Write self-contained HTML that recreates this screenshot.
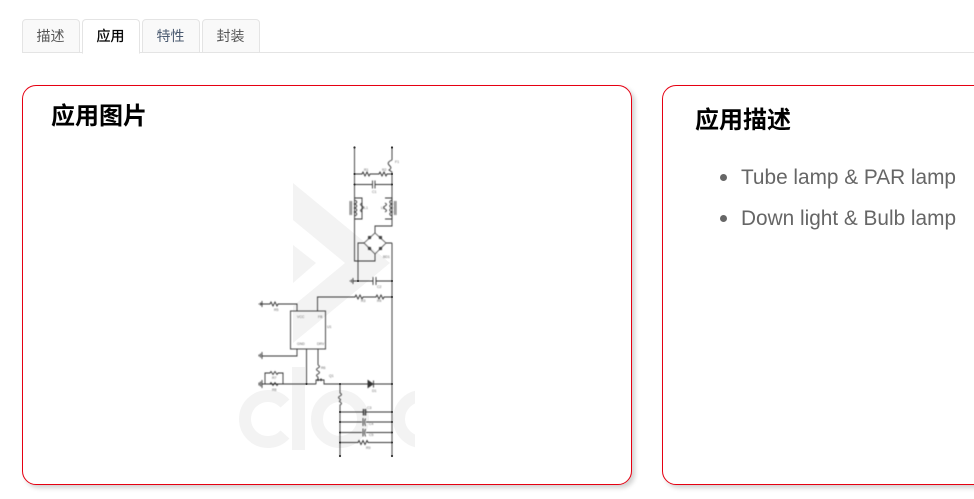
<!DOCTYPE html>
<html lang="zh">
<head>
<meta charset="utf-8">
<style>
html,body{margin:0;padding:0;background:#fff;width:974px;height:499px;overflow:hidden}
body{position:relative;font-family:"Liberation Sans","Noto Sans CJK SC",sans-serif}
.line{position:absolute;left:22px;top:52px;width:952px;height:1px;background:#e4e4e4}
.tab{position:absolute;top:19px;width:56px;height:32px;border:1px solid #e4e4e4;border-radius:4px 4px 0 0;background:#f9f9f9;text-align:center;font-size:14px;line-height:33px;color:#555;text-indent:-1px}
.tab.on{background:#fff;border-bottom:1px solid #fff;height:33px;color:#000;z-index:2;-webkit-text-stroke:.25px #000}
.card{position:absolute;top:85px;height:398px;background:#fff;border:1px solid #e60012;border-radius:14px;box-shadow:3px 3px 5px rgba(0,0,0,.18)}
h2{position:absolute;margin:0;font-size:24px;line-height:30px;font-weight:bold;color:#000;white-space:nowrap}
.li{position:absolute;font-size:20.8px;line-height:24px;color:#666;white-space:nowrap}
.dot{position:absolute;width:7px;height:7px;border-radius:50%;background:#666}
svg{position:absolute;left:0;top:0}
</style>
</head>
<body>
<div class="line"></div>
<div class="tab" style="left:22px">描述</div>
<div class="tab on" style="left:82px">应用</div>
<div class="tab" style="left:142px;color:#4a5a70">特性</div>
<div class="tab" style="left:202px">封装</div>

<div class="card" style="left:22px;width:608px"></div>
<div class="card" style="left:662px;width:340px"></div>

<h2 style="left:51px;top:102px">应用图片</h2>
<h2 style="left:695px;top:106px">应用描述</h2>

<div class="dot" style="left:720px;top:174px"></div>
<div class="li" style="left:741px;top:166px">Tube lamp &amp; PAR lamp</div>
<div class="dot" style="left:720px;top:215px"></div>
<div class="li" style="left:741px;top:207px">Down light &amp; Bulb lamp</div>

<svg width="974" height="499" viewBox="0 0 974 499">
<defs>
<clipPath id="c"><rect x="238" y="180" width="177" height="270"/></clipPath>
<filter id="b" x="-5%" y="-5%" width="110%" height="110%"><feGaussianBlur stdDeviation="0.4"/></filter>
</defs>
<g clip-path="url(#c)" fill="#f3f3f3">
<polygon points="293,183 390,263 293,343 293,306 345,263 293,220"/>
<polygon points="293,245 316,263 293,283"/>
<rect x="292" y="367" width="13" height="83"/>
<g fill="none" stroke="#f3f3f3" stroke-width="12">
<path d="M285 403.500A23 23 0 1 0 285 434.500"/>
<circle cx="340" cy="419" r="23"/>
<circle cx="422" cy="419" r="23"/>
</g>
</g>
<g filter="url(#b)" fill="none" stroke="#333" stroke-width="0.9">
<!-- main rails -->
<path d="M354.500 147V261H375V254"/>
<path d="M392 147V160"/>
<path d="M392 160c-3 1-5 3-3 5s3 3 0 5l3 2"/>
<path d="M392 172V226H375V233"/>
<path d="M392 243V456"/>
<!-- top resistors -->
<path d="M354.500 174H362l1-2 2 4 2-4 2 4 1-2H379l1-2 2 4 2-4 2 4 1-2H392"/>
<path d="M354.500 184.500H372M375 184.500H392"/>
<path d="M372.500 180.500v8M375 180.500v8"/>
<!-- inductors -->
<path d="M354.500 198H362V219H354.500"/>
<path d="M385 198H392V219H385"/>
<path d="M354.500 200c3 1 3 3 0 4c3 1 3 3 0 4c3 1 3 3 0 4c3 1 3 3 0 4M362 203c-2 1-2 2 0 3s2 2 0 3-2 2 0 3"/>
<path d="M392 200c-3 1-3 3 0 4c-3 1-3 3 0 4c-3 1-3 3 0 4c-3 1-3 3 0 4M385 203c2 1 2 2 0 3s-2 2 0 3 2 2 0 3"/>
<path d="M350 201v14M351.500 201v14" stroke-width="0.7"/>
<path d="M394.500 201v14M396 201v14" stroke-width="0.7"/>
<!-- bridge -->
<path d="M375 233L386 243L375 254L364 243Z" stroke-width="0.7"/>
<path d="M364 243H358V281M386 243H392"/>
<path d="M358 281H373M376 281H392M373 277v8M376 277v8"/>
<path d="M358 281H353M353 278v6M351.500 279.500v3M350 280.500v1"/>
<!-- resistors row -->
<path d="M317.500 311V297H355l1-2 2 4 2-4 2 4 1-2H376l1-2 2 4 2-4 2 4 1-2H392"/>
<path d="M260 304H270l1-2 2 4 2-4 2 4 1-2H297V311"/>
<path d="M262 301v6M260.500 302.500v3M259 303.500v1"/>
<!-- IC -->
<rect x="290.500" y="311" width="35" height="38"/>
<path d="M297 349V356H262M262 352v7M260.500 353.500v4M259 354.500v2"/>
<path d="M306.500 349V384"/>
<path d="M318 349V365"/>
<path d="M318 365c2 1 2 2 0 3s-2 2 0 3 2 2 0 3-2 2 0 3V379"/>
<!-- bottom ground row -->
<path d="M262 384H316M262 380v8M260.500 381.500v5M259 382.500v3"/>
<path d="M265 384V373H270l1-1.500 2 3 2-3 2 3 1-1.500H283V384"/>
<path d="M270 384l1-1.500 2 3 2-3 2 3 1-1.500"/>
<path d="M316 384V380H324V384H340"/>
<path d="M318 378.500V381M321 378.500V381" stroke-width="1.400"/>
<!-- diode line -->
<path d="M340 384H368M373 384H392"/>
<path d="M368 380.500V387.500L373 384Z M373.500 380.500V387.500" fill="#333"/>
<path d="M340 384V393c2 1 2 2 0 3s-2 2 0 3-2 2 0 3 2 2 0 3V456"/>
<!-- output rows -->
<path d="M340 412H363M366 412H392"/>
<path d="M363.500 409v6.500M365.500 409v6.500" stroke-width="1.400"/>
<path d="M340 422H362M366 422H392"/>
<path d="M363 418v8M365.500 418.500c-1 2-1 5 0 7.500"/>
<path d="M340 432.500H362M366 432.500H392"/>
<path d="M363 428.500v8M365.500 429c-1 2-1 5 0 7.500"/>
<path d="M340 442.500H358l1-2 2 4 2-4 2 4 2-4 1 2H392"/>
</g>
<g fill="#333">
<circle cx="354.500" cy="147.500" r="1.100"/><circle cx="392" cy="147.500" r="1.100"/>
<circle cx="354.500" cy="174" r="1"/><circle cx="392" cy="174" r="1"/>
<circle cx="354.500" cy="184.500" r="1"/><circle cx="392" cy="184.500" r="1"/>
<circle cx="358" cy="281" r="1"/><circle cx="392" cy="281" r="1"/>
<circle cx="392" cy="297" r="1"/><circle cx="306.500" cy="384" r="1"/>
<circle cx="340" cy="384" r="1"/><circle cx="392" cy="384" r="1"/>
<circle cx="340" cy="412" r="1"/><circle cx="392" cy="412" r="1"/>
<circle cx="340" cy="422" r="1"/><circle cx="392" cy="422" r="1"/>
<circle cx="340" cy="432.500" r="1"/><circle cx="392" cy="432.500" r="1"/>
<circle cx="340" cy="442.500" r="1"/><circle cx="392" cy="442.500" r="1"/>
<circle cx="340" cy="456" r="1.100"/><circle cx="392" cy="456" r="1.100"/>
</g>
<g fill="#444" filter="url(#b)">
<rect x="368" y="236" width="3" height="3"/><rect x="379" y="236" width="3" height="3"/>
<rect x="368" y="247" width="3" height="3"/><rect x="379" y="247" width="3" height="3"/>
</g>
<g font-family="Liberation Sans,sans-serif" font-size="3.500" fill="#666" filter="url(#b)">
<text x="395" y="163">F1</text>
<text x="364" y="171">R1</text><text x="382" y="171">R2</text>
<text x="372" y="193">C1</text>
<text x="364" y="209">L1</text><text x="381" y="209">L2</text>
<text x="383" y="258">BD1</text>
<text x="377" y="288">C2</text>
<text x="361" y="302">R3</text><text x="377" y="302">R4</text>
<text x="274" y="311">R5</text>
<text x="297" y="318">VCC</text><text x="318" y="318">FB</text>
<text x="327" y="328">U1</text>
<text x="297" y="345">GND</text><text x="317" y="345">DRV</text>
<text x="321" y="369">R6</text><text x="329" y="377">Q1</text>
<text x="272" y="379">R7</text><text x="272" y="391">R8</text>
<text x="372" y="392">D1</text>
<text x="367" y="409">C3</text><text x="369" y="425">C4</text><text x="369" y="436">C5</text><text x="366" y="449">R9</text>
</g>
</svg>
</body>
</html>
